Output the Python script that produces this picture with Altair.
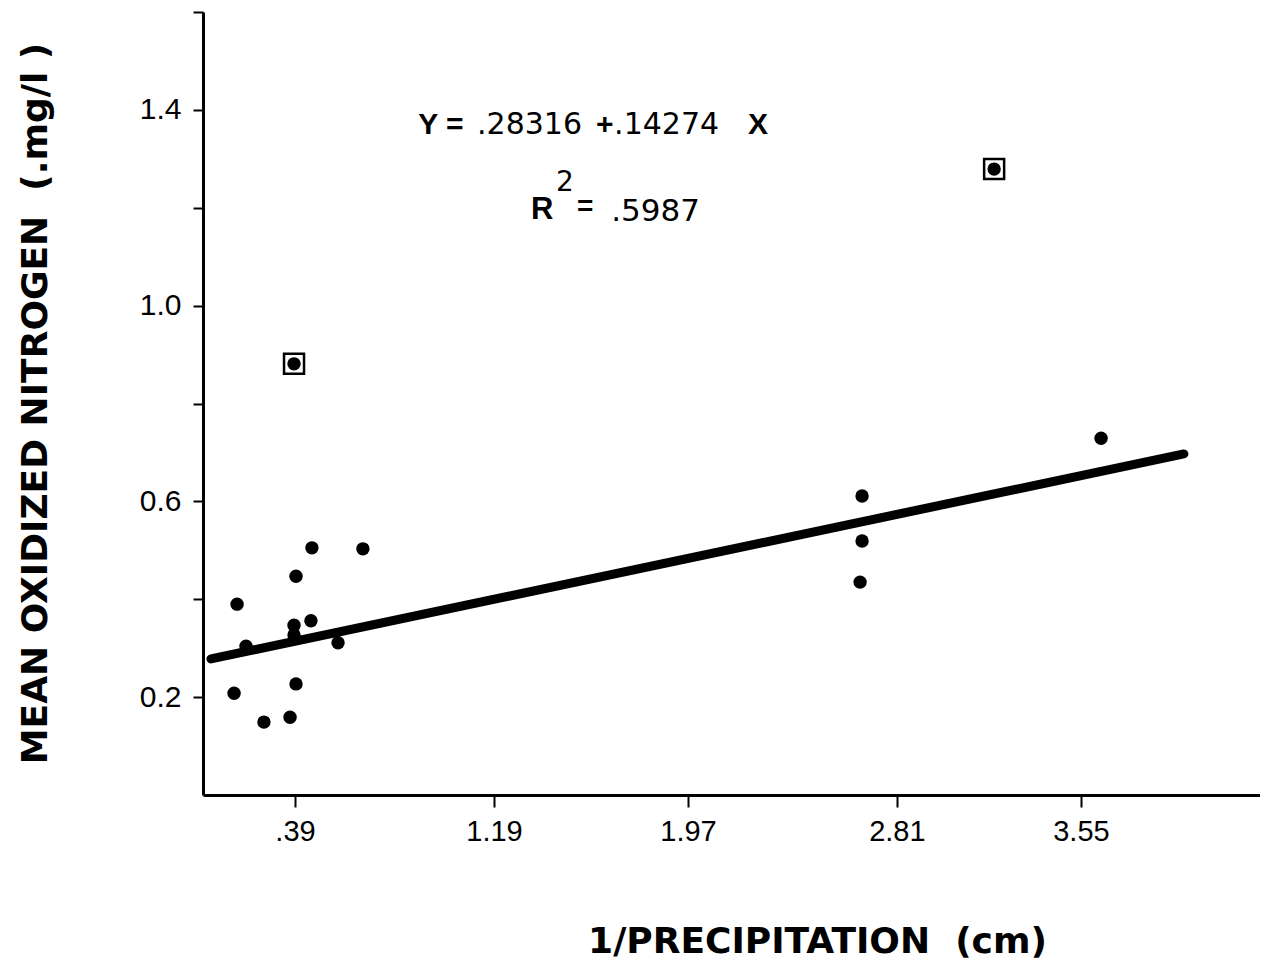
import altair as alt
import pandas as pd

# ---- data ----
precip_inv = [0.157, 0.193, 0.145, 0.265, 0.370, 0.394, 0.386, 0.386, 0.454,
              0.394, 0.458, 0.663, 0.563, 0.386, 2.670, 2.670, 2.662, 3.201, 3.631]
nitrogen = [0.390, 0.304, 0.208, 0.149, 0.159, 0.227, 0.327, 0.347, 0.356,
            0.447, 0.505, 0.503, 0.311, 0.881, 0.611, 0.519, 0.435, 1.279, 0.729]
boxed = [False, False, False, False, False, False, False, False, False,
         False, False, False, False, True, False, False, False, True, False]

fit_x = [0.052, 3.964]
fit_y = [0.278, 0.697]

x_ticks = [0.39, 1.19, 1.97, 2.81, 3.55]
y_ticks = [0.2, 0.4, 0.6, 0.8, 1.0, 1.2, 1.4, 1.6]
y_labels = [0.2, 0.6, 1.0, 1.4]

ann_text = ["Y =", ".28316", "+", ".14274", "X", "R", "2", "=", ".5987"]
ann_x = [0.885, 1.122, 1.600, 1.673, 2.211, 1.339, 1.439, 1.524, 1.661]
ann_y = [1.369, 1.369, 1.369, 1.369, 1.369, 1.195, 1.250, 1.201, 1.191]
ann_bold = [True, False, True, False, True, True, False, True, False]
ann_size = [30, 30, 30, 30, 30, 31, 28, 28, 31]

NB = "\u00a0"
x_title = "1/PRECIPITATION" + NB * 2 + "(cm)"
y_title = "MEAN OXIDIZED NITROGEN" + NB * 2 + "(.mg/l" + NB + ")"

pts = pd.DataFrame({"x": precip_inv, "y": nitrogen, "boxed": boxed})
fit = pd.DataFrame({"x": fit_x, "y": fit_y})
ann = pd.DataFrame({"text": ann_text, "x": ann_x, "y": ann_y,
                    "bold": ann_bold, "size": ann_size})

xs = alt.Scale(domain=[0.02, 4.27], nice=False, zero=False)
ys = alt.Scale(domain=[0.0, 1.6], nice=False, zero=False)

label_cond = " || ".join(f"abs(datum.value - {v}) < 0.01" for v in y_labels)

x_axis = alt.Axis(
    values=x_ticks,
    labelExpr="datum.value < 1 ? substring(format(datum.value, '.2f'), 1) : format(datum.value, '.2f')",
    title=x_title,
    titleFont="DejaVu Sans", titleFontWeight="bold", titleFontSize=36,
    titleX=614, titleY=146, titleBaseline="middle", titleAnchor="middle",
    labelFont="Liberation Sans", labelFontSize=29, labelPadding=10,
    tickSize=12, labelColor="black", titleColor="black",
)
y_axis = alt.Axis(
    values=y_ticks,
    labelExpr=f"({label_cond}) ? format(datum.value, '.1f') : ''",
    title=y_title,
    titleFont="DejaVu Sans", titleFontWeight="bold", titleFontSize=36,
    titleAngle=-90, titleX=-168, titleY=391, titleBaseline="middle", titleAnchor="middle",
    labelFont="Liberation Sans", labelFontSize=30, labelPadding=12,
    tickSize=10, labelColor="black", titleColor="black",
)

points = alt.Chart(pts).mark_circle(size=180, color="black", opacity=1).encode(
    x=alt.X("x:Q", scale=xs, axis=x_axis),
    y=alt.Y("y:Q", scale=ys, axis=y_axis),
)

boxes = alt.Chart(pts).transform_filter("datum.boxed").mark_square(
    size=400, filled=False, color="black", strokeWidth=2.5, opacity=1
).encode(
    x=alt.X("x:Q", scale=xs),
    y=alt.Y("y:Q", scale=ys),
)

line = alt.Chart(fit).mark_line(color="black", strokeWidth=9, strokeCap="round").encode(
    x=alt.X("x:Q", scale=xs),
    y=alt.Y("y:Q", scale=ys),
)

text_bold = alt.Chart(ann).transform_filter("datum.bold").mark_text(
    font="Liberation Sans", fontWeight="bold", align="left", baseline="middle", color="black"
).encode(
    x=alt.X("x:Q", scale=xs),
    y=alt.Y("y:Q", scale=ys),
    text="text:N",
    size=alt.Size("size:Q", scale=None, legend=None),
)

text_reg = alt.Chart(ann).transform_filter("!datum.bold").mark_text(
    font="DejaVu Sans", fontWeight="normal", align="left", baseline="middle", color="black"
).encode(
    x=alt.X("x:Q", scale=xs),
    y=alt.Y("y:Q", scale=ys),
    text="text:N",
    size=alt.Size("size:Q", scale=None, legend=None),
)

chart = alt.layer(points, line, boxes, text_bold, text_reg).properties(
    width=1057, height=783,
    autosize=alt.AutoSizeParams(type="none"),
    padding={"left": 195, "top": 4, "right": 0, "bottom": 170},
    background="white",
).configure_view(stroke=None).configure_axis(
    grid=False, domainColor="black", domainWidth=3, tickColor="black", tickWidth=2,
)

chart.save("out.html", embed_options={"renderer": "svg", "actions": False})
